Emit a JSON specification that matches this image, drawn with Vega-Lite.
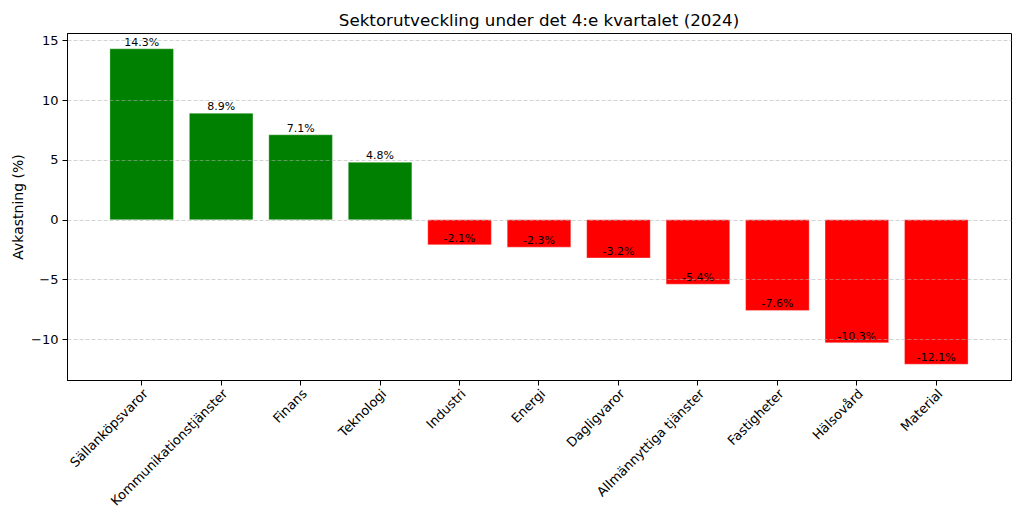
{
  "$schema": "https://vega.github.io/schema/vega-lite/v6.json",
  "width": 944,
  "height": 347,
  "autosize": {"type": "none"},
  "padding": {"left": 67, "top": 33, "right": 13, "bottom": 132},
  "background": "white",
  "title": {
    "text": "Sektorutveckling under det 4:e kvartalet (2024)",
    "font": "DejaVu Sans",
    "fontSize": 16.7,
    "fontWeight": "normal",
    "color": "black",
    "anchor": "middle",
    "offset": 3
  },
  "data": {
    "values": [
      {"sektor": "Sällanköpsvaror", "value": 14.3},
      {"sektor": "Kommunikationstjänster", "value": 8.9},
      {"sektor": "Finans", "value": 7.1},
      {"sektor": "Teknologi", "value": 4.8},
      {"sektor": "Industri", "value": -2.1},
      {"sektor": "Energi", "value": -2.3},
      {"sektor": "Dagligvaror", "value": -3.2},
      {"sektor": "Allmännyttiga tjänster", "value": -5.4},
      {"sektor": "Fastigheter", "value": -7.6},
      {"sektor": "Hälsovård", "value": -10.3},
      {"sektor": "Material", "value": -12.1}
    ]
  },
  "transform": [
    {"calculate": "toString(datum.value) + '%'", "as": "label"}
  ],
  "encoding": {
    "x": {
      "field": "sektor",
      "type": "nominal",
      "sort": null,
      "scale": {"paddingInner": 0.2, "paddingOuter": 0.54},
      "axis": {
        "title": null,
        "labelAngle": -45,
        "labelAlign": "right",
        "labelBaseline": "top",
        "labelFont": "DejaVu Sans",
        "labelFontSize": 13,
        "labelColor": "black",
        "labelPadding": 2,
        "tickColor": "black",
        "tickSize": 5,
        "domainColor": "black",
        "grid": false
      }
    }
  },
  "layer": [
    {
      "mark": {"type": "bar", "stroke": "white", "strokeWidth": 0.6, "strokeOpacity": 0.5},
      "encoding": {
        "y": {
          "field": "value",
          "type": "quantitative",
          "scale": {"domain": [-13.42, 15.62], "nice": false, "zero": false},
          "axis": {
            "title": "Avkastning (%)",
            "titleFont": "DejaVu Sans",
            "titleFontSize": 14,
            "titleFontWeight": "normal",
            "titleColor": "black",
            "titlePadding": 5,
            "values": [-10, -5, 0, 5, 10, 15],
            "format": "d",
            "labelFont": "DejaVu Sans",
            "labelFontSize": 13,
            "labelColor": "black",
            "labelPadding": 4,
            "tickColor": "black",
            "tickSize": 5,
            "domainColor": "black",
            "grid": true,
            "gridColor": "#b0b0b0",
            "gridOpacity": 0.7,
            "gridDash": [4, 2],
            "gridWidth": 0.8,
            "zindex": 1
          }
        },
        "color": {
          "condition": {"test": "datum.value >= 0", "value": "#008000"},
          "value": "#ff0000"
        }
      }
    },
    {
      "mark": {
        "type": "text",
        "baseline": "bottom",
        "dy": -1,
        "font": "DejaVu Sans",
        "fontSize": 11,
        "color": "black"
      },
      "encoding": {
        "y": {"field": "value", "type": "quantitative"},
        "text": {"field": "label", "type": "nominal"}
      }
    }
  ],
  "config": {
    "view": {"stroke": "black", "strokeWidth": 1}
  }
}
